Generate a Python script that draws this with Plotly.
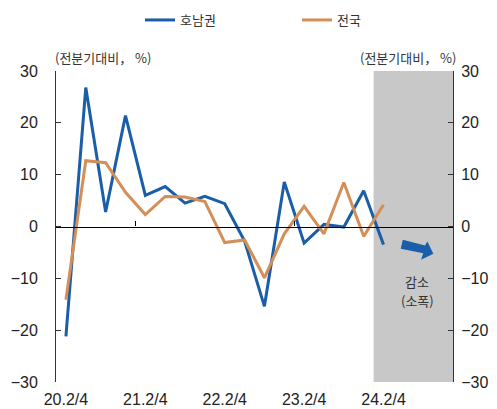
import plotly.graph_objects as go

categories = ["20.2/4", "20.3/4", "20.4/4", "21.1/4", "21.2/4", "21.3/4", "21.4/4", "22.1/4",
              "22.2/4", "22.3/4", "22.4/4", "23.1/4", "23.2/4", "23.3/4", "23.4/4", "24.1/4", "24.2/4"]
honam = [-21.2, 26.8, 2.8, 21.4, 6.0, 7.7, 4.5, 5.8, 4.4, -2.8, -15.4, 8.6, -3.2, 0.4, -0.1, 6.9, -3.5]
national = [-14.1, 12.7, 12.3, 6.6, 2.3, 5.8, 5.7, 4.8, -3.1, -2.6, -9.9, -1.4, 3.9, -1.4, 8.5, -1.9, 4.2]
label_idx = [0, 4, 8, 12, 16]
yticks = [-30, -20, -10, 0, 10, 20, 30]

BLUE = "#1a5da8"
ORANGE = "#d38f57"
FONT = "Noto Sans CJK KR"
NUMFONT = "Liberation Sans"
W, H = 489, 401
xs = list(range(len(categories)))
xr = [-0.5, 19.5]

fig = go.Figure()
fig.add_trace(go.Scatter(x=xs, y=honam, mode="lines", name="호남권",
                         line=dict(color=BLUE, width=3), legend="legend"))
fig.add_trace(go.Scatter(x=xs, y=national, mode="lines", name="전국",
                         line=dict(color=ORANGE, width=3), legend="legend2"))
fig.add_trace(go.Scatter(x=[None], y=[None], xaxis="x2", yaxis="y", showlegend=False))
fig.add_trace(go.Scatter(x=[None], y=[None], xaxis="x", yaxis="y2", showlegend=False))

# gray shaded forecast region
fig.add_shape(type="rect", xref="x", yref="y", x0=15.5, x1=19.5, y0=-30, y1=30,
              fillcolor="#c8c8c8", line_width=0, layer="below")

# block arrow (decoration)
arrow_pts = [(16.97, -2.57), (18.09, -3.67), (18.21, -2.89), (18.51, -5.27),
             (17.89, -6.43), (18.0, -5.15), (16.87, -4.3)]
path = "M " + " L ".join(f"{x},{y}" for x, y in arrow_pts) + " Z"
fig.add_shape(type="path", xref="x", yref="y", path=path, fillcolor=BLUE, line_width=0)

legend_common = dict(orientation="h", xref="container", yref="container", xanchor="left",
                     y=1 - 12 / H, yanchor="middle", font=dict(size=13, family=FONT),
                     itemwidth=30, bgcolor="rgba(0,0,0,0)")
axis_common = dict(showgrid=False, zeroline=False, automargin=False)
fig.update_layout(
    width=W, height=H,
    margin=dict(l=48, r=44, t=63, b=27, autoexpand=False),
    plot_bgcolor="white", paper_bgcolor="white",
    font=dict(family=FONT, color="#333333", size=13),
    showlegend=True,
    legend=dict(x=132 / W, **legend_common),
    legend2=dict(x=289 / W, **legend_common),
    xaxis=dict(range=xr, tickvals=label_idx,
               ticktext=[categories[i] for i in label_idx], ticks="", showline=False,
               tickfont=dict(size=16, family=NUMFONT, color="#222222"),
               ticklabelstandoff=6, **axis_common),
    xaxis2=dict(range=xr, overlaying="x", anchor="free", position=0.5, showline=True,
                linecolor="#000000", linewidth=1.3, ticks="inside", ticklen=5,
                tickvals=[3.5, 11.5], showticklabels=False, tickcolor="#000000",
                **axis_common),
    yaxis=dict(range=[-30, 30], tickvals=yticks, showline=True, linecolor="#333333",
               linewidth=1, ticks="inside", ticklen=5, tickcolor="#333333",
               tickfont=dict(size=16, family=NUMFONT, color="#222222"),
               ticklabelstandoff=14, **axis_common),
    yaxis2=dict(range=[-30, 30], tickvals=yticks, overlaying="y", side="right",
                showline=True, linecolor="#333333", linewidth=1, ticks="inside", ticklen=5,
                tickcolor="#333333", tickfont=dict(size=16, family=NUMFONT, color="#222222"),
                ticklabelstandoff=4, **axis_common),
)

fig.add_annotation(text="(전분기대비， %)", xref="paper", yref="paper", x=-0.008, y=1.045,
                   xanchor="left", yanchor="middle", showarrow=False, font=dict(size=13))
fig.add_annotation(text="(전분기대비， %)", xref="paper", yref="paper", x=1.0126, y=1.045,
                   xanchor="right", yanchor="middle", showarrow=False, font=dict(size=13))
fig.add_annotation(text="감소", xref="x", yref="y", x=17.69, y=-10.6,
                   showarrow=False, font=dict(size=13))
fig.add_annotation(text="(소폭)", xref="x", yref="y", x=17.69, y=-14.3,
                   showarrow=False, font=dict(size=13))

fig.write_html("out.html")
